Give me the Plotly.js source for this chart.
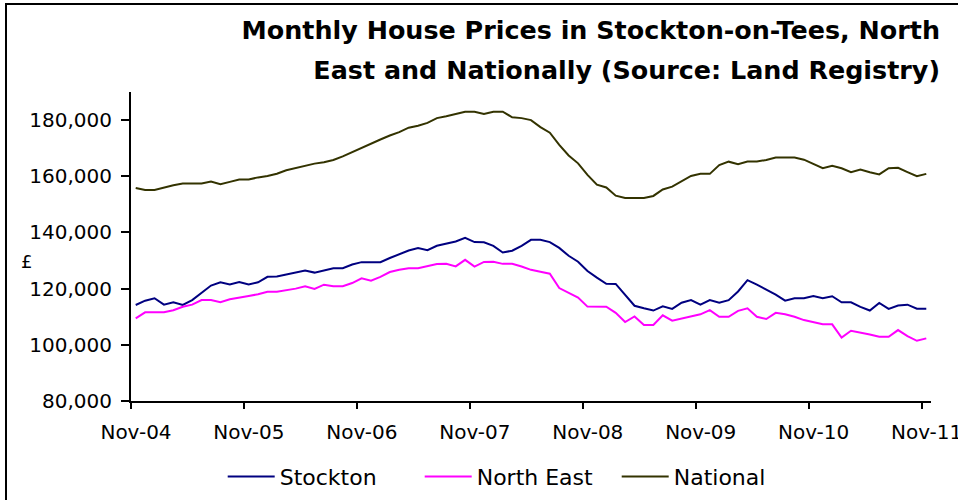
<!DOCTYPE html>
<html>
<head>
<meta charset="utf-8">
<script src="https://cdn.plot.ly/plotly-3.0.1.min.js"></script>
<style>
html,body{margin:0;padding:0;background:#fff;}
#chart{width:958px;height:500px;}
</style>
</head>
<body>
<div id="chart"></div>
<script>
// Monthly values, Nov-04 through Nov-11 (85 months)
const stockton = [
114180,115710,116570,114290,115140,114180,115900,118600,121100,122290,121500,122390,
121500,122250,124200,124290,125000,125700,126430,125710,126600,127290,127290,128600,
129430,129430,129430,130900,132300,133570,134430,133700,135250,135960,136800,138100,
136570,136500,135200,132860,133500,135250,137390,137390,136570,134500,131700,129600,
126300,123900,121700,121680,117700,113900,113000,112200,113700,112800,115000,115900,
114300,115900,115000,115900,119000,123000,121400,119600,117900,115710,116570,116570,
117390,116570,117300,115140,115140,113500,112200,114900,112800,114000,114290,112860,
112860];
const northEast = [
109430,111570,111570,111570,112300,113570,114300,115960,115960,115200,116200,116900,
117400,118000,118900,118930,119500,120000,120860,119900,121400,120860,120860,122000,
123700,122860,124200,125900,126700,127290,127290,128000,128800,128820,127900,130250,
127860,129500,129540,128820,128820,127900,126700,126000,125300,120200,118600,116800,
113600,113570,113570,111400,108100,110100,107040,107040,110500,108600,109400,110200,
110860,112350,110000,110000,112100,113000,110000,109200,111400,110900,110000,108800,
108000,107290,107290,102600,105000,104400,103700,102860,102860,105250,103110,101430,
102290];
const national = [
155860,155140,155140,156100,156800,157390,157390,157390,158100,157150,158000,158820,
158820,159600,160100,160900,162140,163000,163820,164500,165000,165800,167100,168600,
170300,171650,173100,174500,175700,177300,178000,179000,180700,181400,182300,183000,
183000,182140,183000,183000,181000,180700,180000,177500,175500,171200,167400,164600,
160500,157000,156000,153100,152300,152290,152290,153000,155300,156300,158200,160100,
160860,160860,164000,165200,164300,165250,165250,165800,166680,166680,166680,165900,
164430,162860,163700,162860,161430,162390,161430,160650,162900,163000,161500,160000,
160860];
const tickLabels = ['Nov-04','Nov-05','Nov-06','Nov-07','Nov-08','Nov-09','Nov-10','Nov-11'];
const seriesNames = ['Stockton','North East','National'];
const seriesColors = ['#000080','#FF00FF','#333300'];

const monthIndex = stockton.map((_, i) => i);
const tickPositions = tickLabels.map((_, k) => k * 12 - 0.5);

const traces = [stockton, northEast, national].map((vals, s) => ({
  type: 'scatter', mode: 'lines', name: seriesNames[s],
  x: monthIndex, y: vals,
  line: {color: seriesColors[s], width: 2}
}));

const tickFont = {family: 'DejaVu Sans, Arial, sans-serif', size: 20, color: '#000'};
const layout = {
  width: 958, height: 500,
  margin: {l: 131, r: 27, t: 92, b: 99, autoexpand: false},
  paper_bgcolor: '#fff', plot_bgcolor: '#fff',
  showlegend: true,
  title: {
    text: '<span style="font-size:25.4px">Monthly House Prices in Stockton-on-Tees, North</span><br><span style="font-size:25.4px">East and Nationally (Source: Land Registry)</span>',
    font: {family: 'DejaVu Sans, Arial, sans-serif', size: 31, color: '#000', weight: 'bold'},
    xref: 'container', x: 940/958, xanchor: 'right',
    yref: 'container', y: 1 - 39/500, yanchor: 'top'
  },
  xaxis: {
    range: [-0.5, 84.5], tickmode: 'array', tickvals: tickPositions, ticktext: tickLabels,
    ticks: 'outside', ticklen: 6, tickwidth: 2, tickcolor: '#000',
    showline: true, linecolor: '#000', linewidth: 2,
    showgrid: false, zeroline: false, ticklabelshift: 5, ticklabelstandoff: 6,
    ticklabeloverflow: 'allow',
    tickfont: tickFont, fixedrange: true
  },
  yaxis: {
    range: [80000, 190000], tick0: 80000, dtick: 20000, tickformat: ',d',
    ticks: 'outside', ticklen: 8, tickwidth: 2, tickcolor: '#000',
    showline: true, linecolor: '#000', linewidth: 2,
    showgrid: false, zeroline: false, ticklabelstandoff: 5,
    tickfont: tickFont, fixedrange: true
  },
  legend: {
    orientation: 'h', x: 0.484, xanchor: 'center', y: -0.245, yanchor: 'middle',
    font: {family: 'DejaVu Sans, Arial, sans-serif', size: 22, color: '#000'},
    entrywidth: 135, entrywidthmode: 'pixels', itemwidth: 47,
    bgcolor: 'rgba(0,0,0,0)'
  },
  annotations: [{
    text: '£', xref: 'paper', yref: 'paper', x: -0.14, y: 0.451,
    showarrow: false, font: {family: 'DejaVu Sans, Arial, sans-serif', size: 18, color: '#000'}
  }],
  shapes: [{
    type: 'rect', xref: 'paper', yref: 'paper',
    x0: -0.15625, x1: 1.039, y0: -0.333, y1: 1.285,
    line: {color: '#000', width: 2}, fillcolor: 'rgba(0,0,0,0)', layer: 'above'
  }]
};

Plotly.newPlot('chart', traces, layout, {displayModeBar: false, staticPlot: true});
</script>
</body>
</html>
